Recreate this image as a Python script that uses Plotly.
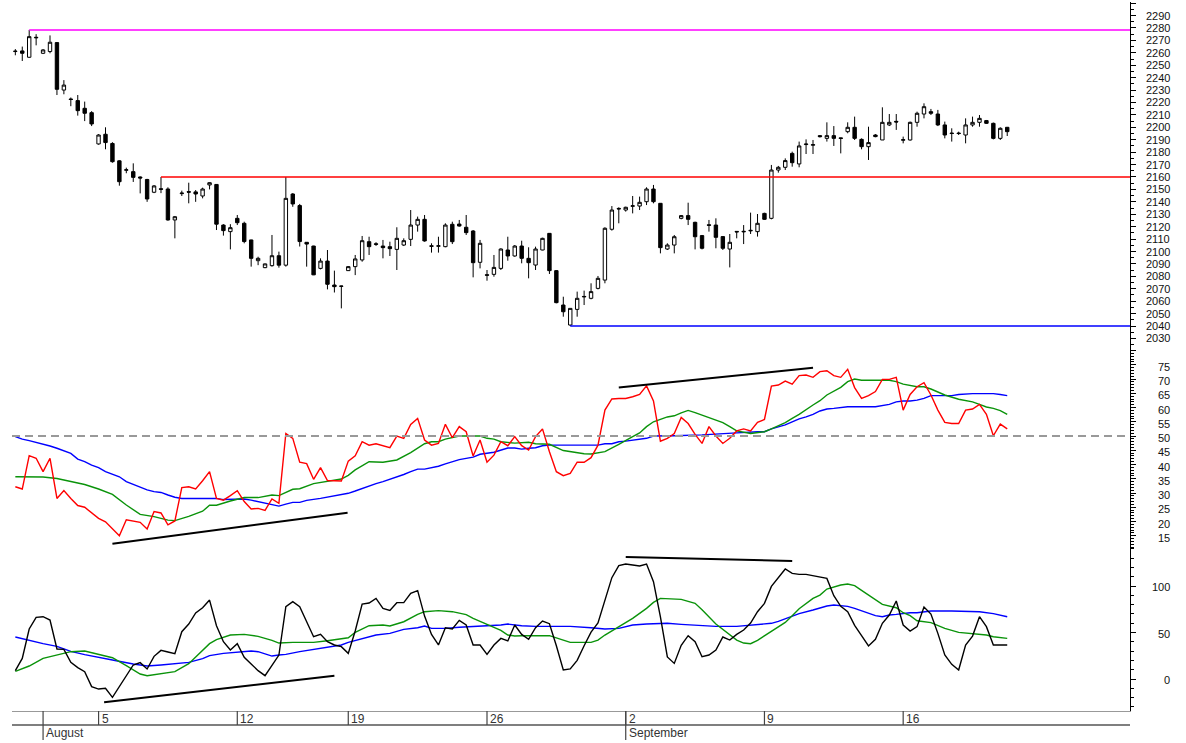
import plotly.graph_objects as go

# bar index 0..143 (4 bars per trading day, 31 Jul -> 19 Sep)
bars = list(range(144))

price_open = [
    2261.0, 2261.5, 2256.4, 2272.0, 2259.6, 2261.0, 2268.2, 2230.0, 2222.8, 2221.5,
    2215.3, 2211.8, 2186.6, 2194.4, 2187.0, 2173.0, 2165.4, 2164.3, 2160.0, 2158.0,
    2147.7, 2150.5, 2150.3, 2125.4, 2146.6, 2148.2, 2148.0, 2144.7, 2153.6, 2154.0,
    2121.3, 2116.0, 2126.7, 2122.7, 2109.3, 2092.6, 2087.0, 2088.6, 2096.6, 2089.0,
    2146.3, 2137.0, 2107.4, 2104.4, 2086.4, 2092.3, 2073.0, 2072.2, 2084.6, 2087.8,
    2093.2, 2107.9, 2106.2, 2104.4, 2103.9, 2101.7, 2105.2, 2109.8, 2121.3, 2125.9,
    2104.6, 2104.2, 2103.9, 2121.9, 2122.1, 2119.5, 2116.5, 2091.3, 2081.3, 2081.6,
    2086.4, 2101.2, 2096.4, 2104.4, 2094.5, 2089.1, 2101.2, 2114.6, 2084.6, 2056.9,
    2040.8, 2053.4, 2063.4, 2062.3, 2070.3, 2077.0, 2117.9, 2134.7, 2133.4, 2136.4,
    2136.6, 2140.1, 2150.3, 2138.8, 2102.0, 2105.2, 2126.7, 2128.9, 2123.5, 2112.8,
    2121.5, 2121.3, 2112.0, 2102.0, 2116.2, 2115.8, 2116.6, 2116.0, 2130.7, 2126.7,
    2165.6, 2167.8, 2179.0, 2170.5, 2186.1, 2185.6, 2193.3, 2191.1, 2193.3, 2191.5,
    2196.5, 2200.0, 2190.3, 2184.4, 2193.8, 2189.8, 2201.9, 2204.8, 2189.6, 2189.8,
    2204.0, 2210.7, 2212.6, 2210.7, 2201.9, 2195.4, 2195.4, 2193.8, 2201.9, 2204.0,
    2205.4, 2203.2, 2191.1, 2200.0,
]
price_high = [
    2263.0, 2265.0, 2278.4, 2275.0, 2263.0, 2274.0, 2268.7, 2238.0, 2224.0, 2226.0,
    2220.7, 2213.0, 2194.5, 2200.0, 2188.0, 2173.5, 2167.5, 2171.0, 2160.5, 2158.5,
    2153.5, 2160.0, 2151.7, 2128.6, 2149.0, 2155.4, 2149.5, 2151.4, 2155.7, 2154.3,
    2122.0, 2122.0, 2129.4, 2124.0, 2109.5, 2095.8, 2090.3, 2113.3, 2099.9, 2160.0,
    2147.0, 2138.3, 2107.6, 2104.6, 2094.5, 2101.2, 2084.6, 2072.5, 2088.3, 2097.2,
    2112.5, 2111.9, 2107.5, 2109.3, 2107.9, 2119.5, 2110.6, 2133.4, 2128.1, 2129.4,
    2106.6, 2111.9, 2122.7, 2124.0, 2125.4, 2129.4, 2117.3, 2109.3, 2085.1, 2097.2,
    2102.6, 2111.9, 2105.2, 2108.7, 2103.4, 2103.9, 2111.1, 2114.8, 2085.1, 2063.6,
    2054.2, 2067.7, 2068.5, 2074.4, 2080.3, 2119.5, 2136.6, 2135.6, 2136.1, 2144.7,
    2144.2, 2151.7, 2153.6, 2139.0, 2106.6, 2113.3, 2129.4, 2139.3, 2124.0, 2113.3,
    2125.4, 2126.7, 2112.3, 2114.1, 2116.4, 2121.3, 2131.3, 2130.2, 2131.2, 2169.7,
    2168.9, 2175.0, 2180.4, 2188.5, 2190.3, 2189.8, 2193.8, 2204.0, 2201.0, 2191.7,
    2204.0, 2208.6, 2191.1, 2200.5, 2194.5, 2216.1, 2210.7, 2210.7, 2192.5, 2204.6,
    2212.6, 2219.3, 2214.8, 2214.0, 2204.6, 2199.2, 2196.5, 2207.2, 2208.6, 2209.9,
    2205.9, 2203.8, 2200.0, 2200.3,
]
price_low = [
    2258.0, 2253.4, 2256.0, 2266.0, 2259.0, 2259.6, 2226.0, 2226.6, 2217.0, 2209.4,
    2205.0, 2201.0, 2186.0, 2182.3, 2171.5, 2153.0, 2163.0, 2156.0, 2146.8, 2140.0,
    2147.0, 2147.0, 2124.8, 2110.6, 2144.7, 2138.8, 2140.0, 2142.8, 2150.0, 2117.3,
    2112.8, 2101.7, 2121.3, 2106.6, 2087.8, 2089.0, 2086.6, 2087.8, 2087.0, 2087.8,
    2136.0, 2104.0, 2087.8, 2081.0, 2085.6, 2069.5, 2067.0, 2054.2, 2084.4, 2081.0,
    2091.8, 2097.2, 2104.5, 2094.5, 2096.4, 2085.1, 2104.4, 2104.4, 2116.0, 2107.9,
    2099.1, 2099.1, 2103.4, 2106.0, 2120.0, 2113.3, 2079.2, 2086.4, 2076.5, 2079.7,
    2085.1, 2092.6, 2095.8, 2090.5, 2078.4, 2085.1, 2101.0, 2081.9, 2058.3, 2047.5,
    2040.0, 2047.5, 2056.9, 2061.5, 2069.5, 2074.4, 2116.8, 2122.7, 2132.1, 2130.7,
    2133.4, 2137.4, 2138.8, 2098.5, 2101.2, 2098.5, 2125.9, 2121.3, 2101.7, 2101.7,
    2116.0, 2102.6, 2101.2, 2087.2, 2110.6, 2106.0, 2114.1, 2112.0, 2125.4, 2125.9,
    2163.5, 2165.6, 2168.3, 2167.8, 2178.5, 2178.5, 2191.8, 2188.5, 2185.0, 2179.0,
    2195.2, 2189.8, 2182.3, 2173.7, 2192.0, 2189.8, 2201.0, 2197.9, 2187.1, 2189.3,
    2200.5, 2207.2, 2209.9, 2201.0, 2191.1, 2188.5, 2193.8, 2187.1, 2200.5, 2200.5,
    2202.7, 2190.3, 2189.8, 2193.0,
]
price_close = [
    2261.3, 2259.6, 2273.0, 2272.4, 2262.3, 2268.5, 2230.6, 2234.0, 2222.4, 2213.4,
    2211.3, 2202.7, 2193.8, 2187.7, 2172.3, 2156.2, 2165.8, 2159.7, 2159.2, 2142.3,
    2152.8, 2150.1, 2125.4, 2128.0, 2147.0, 2147.8, 2146.3, 2150.3, 2155.4, 2122.0,
    2116.8, 2119.2, 2123.2, 2108.0, 2094.5, 2094.5, 2090.0, 2096.6, 2089.0, 2142.8,
    2138.3, 2108.0, 2106.0, 2081.2, 2092.3, 2073.6, 2071.7, 2072.0, 2087.8, 2094.0,
    2108.7, 2103.9, 2105.8, 2103.1, 2102.3, 2110.6, 2108.7, 2121.3, 2125.9, 2108.5,
    2104.2, 2104.6, 2121.3, 2107.9, 2120.5, 2115.2, 2091.0, 2106.6, 2080.9, 2087.2,
    2102.0, 2096.4, 2104.4, 2094.5, 2091.0, 2102.0, 2110.6, 2084.6, 2058.8, 2051.5,
    2054.2, 2062.3, 2063.8, 2067.7, 2078.4, 2118.7, 2133.4, 2134.3, 2135.6, 2136.8,
    2139.6, 2150.3, 2140.1, 2103.1, 2105.2, 2111.9, 2128.9, 2125.9, 2111.9, 2102.6,
    2121.1, 2111.4, 2102.6, 2107.4, 2115.8, 2116.2, 2117.0, 2122.7, 2125.9, 2165.6,
    2167.8, 2173.2, 2171.5, 2185.0, 2186.5, 2186.0, 2192.5, 2193.3, 2191.1, 2191.0,
    2200.0, 2191.1, 2184.4, 2187.7, 2192.5, 2204.0, 2204.0, 2204.3, 2190.0, 2204.0,
    2211.3, 2216.6, 2211.3, 2201.9, 2193.8, 2195.0, 2195.0, 2201.9, 2204.0, 2207.2,
    2203.2, 2191.1, 2199.2, 2196.5,
]

# horizontal levels on the price panel: value and first bar
level_values = [2278.4, 2160.0, 2040.0]
level_start = [2, 21, 80]
level_colors = ['#FF00FF', '#FF0000', '#0000FF']

# RSI-type oscillator (middle panel)
rsi = [
    32.2, 31.4, 43.1, 42.2, 37.5, 42.2, 28.1, 30.9, 28.1, 25.6,
    25.0, 23.1, 21.1, 19.9, 17.6, 15.0, 20.6, 20.2, 19.7, 17.4,
    23.5, 23.0, 18.8, 20.2, 31.9, 32.2, 31.4, 34.3, 37.5, 28.1,
    27.5, 29.1, 30.8, 27.0, 24.4, 24.6, 23.9, 27.9, 26.4, 50.9,
    49.2, 40.8, 40.3, 34.8, 38.9, 34.4, 34.2, 34.2, 41.2, 43.1,
    48.0, 46.8, 47.3, 46.5, 45.9, 50.0, 49.2, 54.1, 56.2, 48.6,
    46.8, 47.4, 54.1, 49.4, 53.3, 51.5, 43.0, 48.6, 40.8, 43.3,
    48.0, 46.6, 49.8, 46.6, 45.1, 49.8, 52.5, 44.5, 37.5, 36.1,
    36.9, 40.8, 40.8, 42.4, 46.8, 59.1, 63.0, 63.2, 63.2, 63.8,
    64.6, 67.6, 62.3, 48.2, 49.2, 50.9, 56.5, 54.4, 50.6, 47.4,
    53.3, 50.0, 47.4, 49.2, 51.8, 52.5, 51.8, 54.8, 55.8, 67.5,
    67.9, 69.3, 68.2, 71.2, 71.4, 70.6, 72.6, 72.9, 71.2, 70.6,
    73.4, 67.0, 63.2, 64.2, 65.6, 69.9, 69.9, 70.6, 59.1, 64.6,
    67.3, 68.7, 64.4, 59.1, 54.8, 54.4, 54.4, 59.1, 59.5, 61.1,
    57.6, 50.1, 54.2, 52.5,
]
rsi_short_bars = [0, 2, 4, 6, 8, 10, 12, 14, 16, 18, 20, 22, 23, 25, 27, 28, 29, 31, 33, 35,
                  37, 38, 40, 41, 43, 45, 47, 48, 49, 51, 53, 55, 57, 59, 60, 61, 62, 64, 67, 68,
                  69, 70, 72, 74, 75, 77, 79, 82, 83, 85, 86, 87, 89, 90, 91, 92, 94, 95, 96, 97,
                  98, 100, 102, 103, 104, 106, 108, 109, 111, 112, 113, 115, 116, 117, 119, 120, 121, 122, 124, 126,
                  127, 128, 130, 131, 132, 134, 136, 138, 139, 140, 141, 142, 143]
rsi_short = [35.7, 35.7, 35.6, 35.1, 34.1, 33.0, 31.4, 29.5, 25.8, 22.5, 21.7, 20.5, 20.3, 21.8, 23.6, 25.7, 25.7, 27.2, 28.4, 28.4,
             29.3, 29.1, 31.3, 31.5, 33.3, 34.2, 34.9, 36.2, 38.1, 41.0, 40.8, 41.6, 44.2, 47.3, 48.0, 48.0, 48.9, 50.0, 50.0, 49.2,
             48.9, 48.0, 47.5, 47.8, 47.3, 47.1, 44.9, 43.8, 43.7, 44.5, 45.7, 47.1, 49.8, 51.1, 53.3, 55.0, 56.7, 57.1, 58.1, 59.0,
             58.2, 56.5, 54.7, 53.3, 51.8, 50.9, 51.5, 52.5, 54.7, 56.2, 57.6, 60.9, 62.4, 64.4, 67.1, 69.1, 70.0, 69.6, 69.6, 69.6,
             69.1, 68.2, 67.3, 67.3, 66.5, 64.4, 62.9, 62.0, 61.1, 60.2, 59.7, 58.9, 57.6]
rsi_long_bars = [0, 1, 2, 3, 4, 5, 6, 7, 8, 9, 10, 11, 12, 13, 14, 15, 16, 17, 18, 19,
                 20, 21, 22, 23, 24, 29, 30, 31, 33, 34, 35, 36, 37, 38, 39, 40, 41, 42, 44, 46,
                 48, 49, 50, 51, 52, 53, 54, 55, 56, 57, 58, 59, 61, 62, 63, 64, 66, 67, 69, 70,
                 71, 72, 73, 74, 75, 76, 77, 84, 85, 86, 87, 88, 89, 90, 91, 92, 94, 95, 99, 103,
                 104, 107, 108, 109, 110, 111, 112, 113, 114, 115, 116, 117, 118, 119, 120, 124, 125, 126, 127, 128,
                 129, 130, 131, 132, 135, 136, 138, 141, 142, 143]
rsi_long = [49.8, 48.9, 48.4, 47.8, 47.2, 46.5, 45.7, 44.7, 43.9, 41.9, 41.0, 39.8, 38.9, 37.5, 36.7, 35.7, 34.0, 33.0, 32.2, 31.1,
            30.5, 30.2, 29.3, 28.5, 28.1, 28.1, 27.7, 27.7, 27.9, 27.5, 27.0, 26.5, 26.0, 25.4, 26.1, 26.7, 26.7, 27.4, 28.1, 28.9,
            29.9, 30.7, 31.6, 32.6, 33.3, 34.0, 34.8, 35.7, 36.5, 37.5, 38.4, 38.4, 39.4, 40.2, 41.0, 41.7, 42.6, 43.6, 44.3, 45.0,
            45.8, 45.8, 45.4, 45.7, 45.9, 46.6, 46.8, 46.8, 47.3, 47.3, 48.0, 48.2, 48.6, 48.9, 49.2, 50.0, 50.0, 50.1, 50.4, 50.8,
            51.1, 51.5, 51.5, 52.5, 53.3, 53.9, 55.0, 56.0, 56.7, 57.6, 58.8, 59.5, 59.7, 59.9, 60.3, 60.3, 60.6, 61.1, 62.0, 62.3,
            62.3, 62.6, 63.2, 64.2, 64.2, 64.6, 64.9, 64.9, 64.6, 64.2]

# stochastic-type oscillator (bottom panel)
osc = [
    9.0, 22.2, 53.8, 66.3, 67.0, 63.4, 32.3, 31.9, 17.9, 12.2,
    7.9, -8.2, -10.8, -10.0, -19.7, -8.2, 3.6, 15.1, 17.6, 10.8,
    24.4, 30.8, 29.0, 27.2, 50.9, 59.1, 71.0, 76.7, 84.9, 57.3,
    40.1, 31.2, 38.0, 23.3, 16.1, 9.0, 3.6, 15.1, 25.8, 77.8,
    83.2, 77.8, 62.4, 45.5, 48.0, 40.1, 36.6, 34.8, 27.6, 51.6,
    80.6, 81.7, 86.7, 76.0, 73.8, 82.1, 82.1, 92.1, 95.0, 67.7,
    48.0, 36.6, 55.2, 53.8, 63.1, 58.1, 36.6, 36.6, 26.5, 36.6,
    43.7, 40.9, 58.1, 48.0, 42.7, 55.2, 62.4, 59.5, 35.8, 9.7,
    10.8, 20.1, 35.8, 50.5, 60.2, 84.6, 109.0, 121.9, 123.7, 122.6,
    121.5, 123.7, 104.7, 66.7, 23.7, 16.8, 36.2, 46.6, 40.1, 24.0,
    25.8, 31.2, 45.2, 41.9, 48.0, 52.7, 60.2, 72.4, 81.4, 99.6,
    109.3, 118.3, 113.6, 112.5, 112.5, 111.1, 110.0, 108.2, 89.6, 78.1,
    72.4, 57.7, 46.6, 35.5, 42.7, 59.9, 68.8, 83.9, 58.1, 51.6,
    56.3, 77.4, 69.9, 49.1, 25.8, 15.8, 9.7, 36.6, 46.2, 67.0,
    56.3, 36.6, 36.6, 36.6,
]
osc_short_bars = [0, 2, 4, 6, 8, 10, 12, 14, 16, 18, 19, 21, 23, 25, 27, 28, 29, 31, 33, 35,
                  37, 38, 40, 43, 45, 48, 49, 51, 53, 54, 56, 58, 59, 61, 63, 65, 66, 68, 70, 71,
                  72, 73, 77, 79, 80, 83, 84, 85, 87, 89, 91, 92, 93, 95, 96, 98, 99, 101, 103, 104,
                  105, 106, 107, 109, 111, 112, 113, 115, 116, 117, 118, 119, 120, 121, 122, 123, 124, 125, 127, 128,
                  129, 130, 132, 134, 136, 138, 140, 141, 143]
osc_short = [8.2, 14.0, 22.2, 26.2, 29.4, 30.1, 26.5, 22.9, 14.3, 5.4, 3.6, 5.7, 7.9, 16.5, 30.8, 38.0, 42.3, 47.3, 48.0, 45.9,
             41.6, 38.7, 39.4, 39.4, 41.2, 44.4, 50.2, 57.3, 58.1, 57.0, 61.6, 69.5, 72.4, 73.5, 72.4, 69.2, 65.2, 59.1, 52.3, 47.3,
             46.2, 46.6, 46.6, 41.9, 39.4, 39.4, 41.9, 47.3, 56.3, 65.2, 76.0, 82.4, 86.7, 85.7, 85.7, 81.4, 74.6, 59.1, 47.0, 41.9,
             38.7, 38.0, 41.6, 51.6, 60.9, 68.1, 75.6, 86.7, 90.3, 96.8, 99.3, 101.1, 102.2, 100.4, 95.3, 90.3, 84.9, 80.3, 76.7, 71.3,
             68.1, 62.7, 60.6, 54.5, 50.2, 49.1, 47.3, 45.5, 43.7]
osc_long_bars = [0, 2, 4, 6, 8, 10, 12, 14, 17, 19, 21, 23, 25, 27, 28, 30, 32, 34, 35, 37,
                 38, 39, 41, 43, 45, 47, 48, 50, 52, 54, 55, 56, 58, 59, 60, 62, 64, 66, 68, 70,
                 71, 72, 73, 75, 80, 83, 85, 87, 89, 91, 94, 96, 98, 101, 104, 106, 108, 109, 110, 111,
                 112, 113, 115, 117, 118, 119, 120, 121, 122, 123, 124, 125, 126, 127, 129, 130, 131, 132, 135, 138,
                 139, 141, 143]
osc_long = [45.2, 41.2, 38.0, 35.1, 29.7, 26.2, 23.7, 20.4, 16.1, 14.0, 15.1, 16.5, 17.9, 21.9, 25.1, 27.6, 28.7, 30.1, 29.4, 24.7,
            25.8, 26.5, 29.4, 31.9, 34.1, 36.6, 39.4, 43.7, 47.3, 49.1, 50.9, 53.4, 55.2, 57.0, 54.5, 54.5, 55.6, 56.3, 57.0, 58.1,
            59.1, 58.1, 57.3, 56.6, 56.6, 55.2, 53.8, 54.5, 58.1, 59.1, 59.9, 58.8, 57.7, 56.6, 56.6, 58.1, 59.1, 59.9, 62.0, 64.5,
            67.4, 70.3, 74.2, 78.5, 79.6, 79.2, 78.1, 76.0, 73.5, 71.0, 68.1, 67.0, 68.8, 69.5, 71.3, 71.3, 72.4, 73.1, 73.1, 72.4,
            72.4, 70.3, 67.0]

# trend lines drawn on the oscillators: bar0, value0, bar1, value1
rsi_trend_lines = [(14, 12.2, 47.9, 23.1), (87, 67.0, 115, 74.0)]
osc_trend_lines = [(12.8, -25.1, 46.0, 3.6), (88, 131.2, 112, 126.9)]

# axis labels
price_ticks = list(range(2030, 2300, 10))
rsi_ticks = list(range(15, 80, 5))
osc_ticks = [0, 50, 100]
day_labels = ['5', '12', '19', '26', '2', '9', '16']
day_bars = [12, 32, 48, 68, 88, 108, 128]
month_labels = ['August', 'September']
month_bars = [4, 88]

W, H = 1186, 743
FONT = 'Liberation Sans, Arial, sans-serif'
x_range = [-0.48, 160.7]


def py(pixel):
    # page pixel row -> paper fraction
    return 1 - pixel / H


fig = go.Figure()

fig.add_trace(go.Candlestick(
    x=bars, open=price_open, high=price_high, low=price_low, close=price_close,
    increasing=dict(line=dict(color='black', width=1), fillcolor='white'),
    decreasing=dict(line=dict(color='black', width=1), fillcolor='black'),
    whiskerwidth=0, yaxis='y', showlegend=False, hoverinfo='skip'
))

fig.add_trace(go.Scatter(x=rsi_long_bars, y=rsi_long, mode='lines', yaxis='y2',
                         line=dict(color='#0000FF', width=1.4), showlegend=False))
fig.add_trace(go.Scatter(x=rsi_short_bars, y=rsi_short, mode='lines', yaxis='y2',
                         line=dict(color='#0A930A', width=1.4), showlegend=False))
fig.add_trace(go.Scatter(x=bars, y=rsi, mode='lines', yaxis='y2',
                         line=dict(color='#FF0000', width=1.4), showlegend=False))

fig.add_trace(go.Scatter(x=osc_long_bars, y=osc_long, mode='lines', yaxis='y3',
                         line=dict(color='#0000FF', width=1.4), showlegend=False))
fig.add_trace(go.Scatter(x=osc_short_bars, y=osc_short, mode='lines', yaxis='y3',
                         line=dict(color='#0A930A', width=1.4), showlegend=False))
fig.add_trace(go.Scatter(x=bars, y=osc, mode='lines', yaxis='y3',
                         line=dict(color='black', width=1.4), showlegend=False))

shapes = []

# support / resistance levels
for val, start, col in zip(level_values, level_start, level_colors):
    shapes.append(dict(type='line', xref='x', yref='y', x0=start, x1=x_range[1], y0=val, y1=val,
                       line=dict(color=col, width=1.5)))

# 50 line on the middle panel
shapes.append(dict(type='line', xref='x', yref='y2', x0=x_range[0], x1=x_range[1], y0=50, y1=50,
                   line=dict(color='#999999', width=2, dash='8px,5px')))

for x0, y0, x1, y1 in rsi_trend_lines:
    shapes.append(dict(type='line', xref='x', yref='y2', x0=x0, y0=y0, x1=x1, y1=y1,
                       line=dict(color='black', width=2)))
for x0, y0, x1, y1 in osc_trend_lines:
    shapes.append(dict(type='line', xref='x', yref='y3', x0=x0, y0=y0, x1=x1, y1=y1,
                       line=dict(color='black', width=2)))

# time axis: day ticks, month ticks and the lower rule
x_left, x_right = 12 / W, 1130 / W
shapes.append(dict(type='line', xref='paper', yref='paper', x0=x_left, x1=x_right,
                   y0=py(725), y1=py(725), line=dict(color='black', width=1.2)))
for b in day_bars:
    shapes.append(dict(type='line', xref='x', yref='paper', x0=b, x1=b, y0=py(711), y1=py(725),
                       line=dict(color='#444444', width=1.2)))
for b in month_bars:
    shapes.append(dict(type='line', xref='x', yref='paper', x0=b, x1=b, y0=py(711), y1=py(740),
                       line=dict(color='#444444', width=1.2)))

annotations = []
for lab, b in zip(day_labels, day_bars):
    annotations.append(dict(x=b, y=py(719), xref='x', yref='paper', text=lab, showarrow=False,
                            xanchor='left', yanchor='middle', xshift=1,
                            font=dict(family=FONT, size=12, color='#333333')))
for lab, b in zip(month_labels, month_bars):
    annotations.append(dict(x=b, y=py(733), xref='x', yref='paper', text=lab, showarrow=False,
                            xanchor='left', yanchor='middle', xshift=1,
                            font=dict(family=FONT, size=12, color='#333333')))

# right-aligned value labels (oscillator labels sit a touch below their tick)
label_x = 1172 / W
for ref, ticks, shift in (('y', price_ticks, 0), ('y2', rsi_ticks, -2), ('y3', osc_ticks, -1)):
    for v in ticks:
        annotations.append(dict(x=label_x, y=v, xref='paper', yref=ref, text=str(v), showarrow=False,
                                xanchor='right', yanchor='middle', yshift=shift,
                                font=dict(family=FONT, size=11, color='#111111')))

yaxis_common = dict(side='right', anchor='x', showgrid=False, zeroline=False, showline=True,
                    linecolor='black', linewidth=1, ticks='outside', tickcolor='black',
                    showticklabels=False, fixedrange=True)

fig.update_layout(
    width=W, height=H,
    margin=dict(l=0, r=0, t=0, b=0),
    paper_bgcolor='white', plot_bgcolor='white',
    showlegend=False,
    shapes=shapes,
    annotations=annotations,
    xaxis=dict(domain=[x_left, x_right], range=x_range, anchor='y3', showgrid=False, zeroline=False,
               showticklabels=False, ticks='', showline=True, linecolor='#999999', linewidth=1,
               rangeslider=dict(visible=False), fixedrange=True),
    yaxis=dict(domain=[py(348), py(2)], range=[2022.3, 2300.9], dtick=10, ticklen=5,
               minor=dict(dtick=5, ticklen=3, ticks='outside', tickcolor='black'), **yaxis_common),
    yaxis2=dict(domain=[py(548), py(348)], range=[10.7, 80.9], dtick=5, ticklen=5,
                minor=dict(dtick=1, ticklen=3, ticks='outside', tickcolor='black'), **yaxis_common),
    yaxis3=dict(domain=[py(711), py(548)], range=[-34.4, 140.9], dtick=50, ticklen=5,
                minor=dict(dtick=10, ticklen=3, ticks='outside', tickcolor='black'), **yaxis_common),
)

# the page body has a default 8px margin; drop it so the chart sits at the window origin
fig.write_html("out.html", config={'displayModeBar': False},
               post_script="document.body.style.margin='0';document.body.style.overflow='hidden';")
